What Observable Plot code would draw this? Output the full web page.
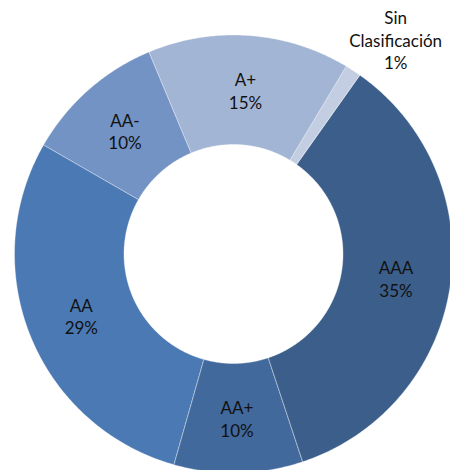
<!DOCTYPE html>
<html>
<head>
<meta charset="utf-8">
<script src="https://cdn.jsdelivr.net/npm/d3@7"></script>
<script src="https://cdn.jsdelivr.net/npm/@observablehq/plot@0.6"></script>
<style>
  html, body { margin: 0; padding: 0; background: #fff; }
  #chart svg { display: block; }
</style>
</head>
<body>
<div id="chart"></div>
<script>
// Data (clockwise from the first slice)
const categories = ["Sin\nClasificación", "AAA", "AA+", "AA", "AA-", "A+"];
const values = [1.2, 35.1, 9.5, 28.9, 10.4, 14.9];
const colors = ["#C4CEE2", "#3B5E8B", "#41699C", "#4A79B4", "#7393C4", "#A3B5D4"];
const outside = [true, false, false, false, false, false];

// Layout
const W = 450, H = 470;
const cx = 233, cy = 253.5;
const rOuter = 219, rInner = 109.5;
const startDeg = 31;

const total = d3.sum(values);
let acc = startDeg;
const slices = values.map((v, i) => {
  const a0 = acc, a1 = acc + v / total * 360;
  acc = a1;
  return {name: categories[i], value: v, color: colors[i], a0, a1, mid: (a0 + a1) / 2, outside: outside[i]};
});

const rad = d => d * Math.PI / 180;
const pts = [];
for (const s of slices) {
  const n = Math.max(2, Math.ceil((s.a1 - s.a0) / 0.5));
  for (let k = 0; k <= n; k++) {
    const a = rad(s.a0 + (s.a1 - s.a0) * k / n);
    pts.push({key: s.name, color: s.color, x: rOuter * Math.sin(a), y: rOuter * Math.cos(a)});
  }
  for (let k = n; k >= 0; k--) {
    const a = rad(s.a0 + (s.a1 - s.a0) * k / n);
    pts.push({key: s.name, color: s.color, x: rInner * Math.sin(a), y: rInner * Math.cos(a)});
  }
}

const rLabel = (rOuter + rInner) / 2;
const inLabels = slices.filter(s => !s.outside).map(s => ({
  text: s.name + "\n" + Math.round(s.value) + "%",
  x: rLabel * Math.sin(rad(s.mid)), y: rLabel * Math.cos(rad(s.mid))
}));
const rOut = rOuter * 1.22;
const outLabels = slices.filter(s => s.outside).map(s => ({
  text: s.name + "\n" + Math.round(s.value) + "%",
  x: rOut * Math.sin(rad(s.mid)), y: rOut * Math.cos(rad(s.mid))
}));

const chart = Plot.plot({
  width: W, height: H, margin: 0,
  style: {fontFamily: "Lato, sans-serif", background: "#fff"},
  x: {domain: [-cx, W - cx], axis: null},
  y: {domain: [-(H - cy), cy], axis: null},
  color: {type: "identity"},
  marks: [
    Plot.line(pts, {x: "x", y: "y", z: "key", fill: "color", stroke: "#fff", strokeWidth: 0.6, strokeOpacity: 0.6, curve: "linear-closed"}),
    Plot.text(inLabels, {x: "x", y: "y", text: "text", fontSize: 17, lineHeight: 1.34, fill: "#111", lineAnchor: "middle"}),
    Plot.text(outLabels, {x: "x", y: "y", text: "text", fontSize: 17, lineHeight: 1.34, fill: "#111", lineAnchor: "middle", dx: 16, dy: 9})
  ]
});
document.getElementById("chart").appendChild(chart);
</script>
</body>
</html>
